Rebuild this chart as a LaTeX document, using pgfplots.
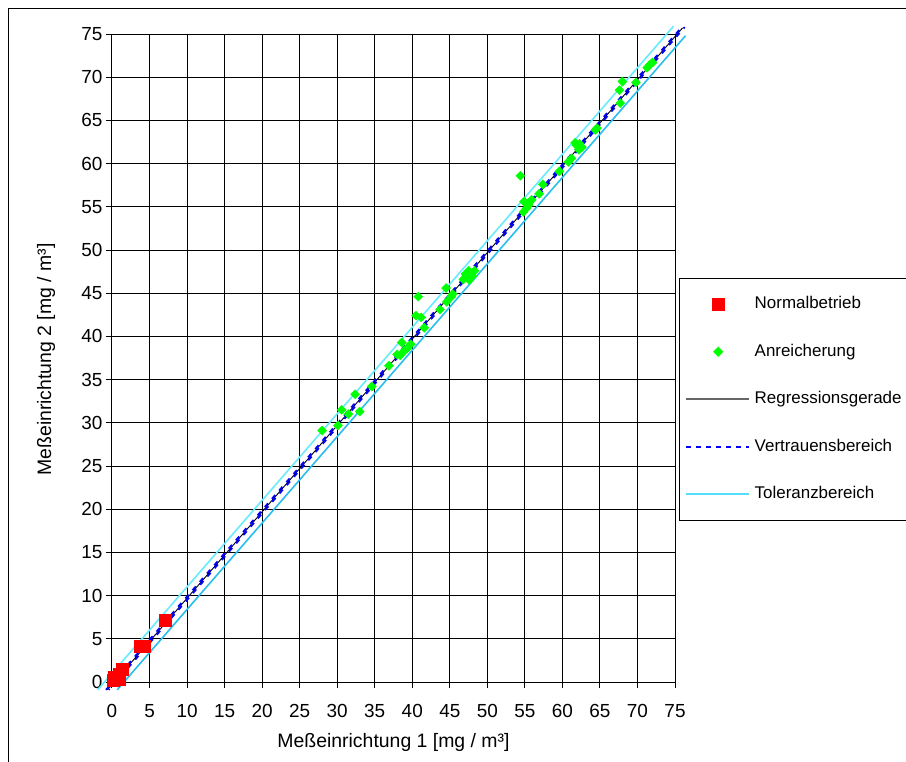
\documentclass[border=0pt]{standalone}
\usepackage{fontspec}
\setmainfont{Liberation Sans}
\usepackage{pgfplots}
\pgfplotsset{compat=1.18}
\definecolor{tolup}{RGB}{102,235,255}
\definecolor{tollo}{RGB}{40,190,240}
\definecolor{mygreen}{RGB}{0,255,0}

\pgfplotstableread{
x y
0.1 0.2
0.3 0.6
0.9 0.3
1.0 0.9
1.4 1.5
3.8 4.2
4.3 4.2
7.1 7.2
}\normal

\pgfplotstableread{
x y
28.0 29.1
30.1 29.7
30.6 31.5
31.5 31.0
33.0 31.3
32.4 33.3
34.6 34.2
36.9 36.6
38.0 37.9
38.4 37.8
39.0 38.4
38.6 39.3
39.8 39.1
39.3 38.6
41.6 41.0
40.8 44.6
40.5 42.4
41.2 42.2
43.7 43.1
44.6 44.0
44.5 45.6
45.4 44.9
45.2 44.6
47.1 47.2
46.8 46.6
47.5 47.6
48.0 47.0
47.6 46.5
48.3 47.6
54.4 58.6
54.9 55.6
55.2 54.8
55.9 55.8
54.8 54.4
55.5 55.2
56.9 56.5
57.4 57.6
59.6 59.1
60.8 60.2
61.2 60.6
61.9 62.1
62.3 62.3
62.6 61.9
61.7 62.4
62.2 61.6
64.6 64.1
64.4 63.9
67.7 67.0
67.6 68.5
68.0 69.5
69.8 69.4
71.6 71.4
72.0 71.7
71.3 71.1
}\anreich

\begin{document}
\begin{tikzpicture}
\useasboundingbox (0bp,0bp) rectangle (906bp,-762bp);
\draw[black, line width=1bp] (8bp,-762bp) -- (8bp,-8bp) -- (906bp,-8bp);
\begin{axis}[
  at={(112bp,-682bp)}, anchor=south west,
  scale only axis, width=563bp, height=648bp,
  xmin=0, xmax=75, ymin=0, ymax=75,
  xtick={0,5,...,75}, ytick={0,5,...,75},
  grid=major, grid style={black, line width=1bp},
  axis line style={black, line width=1bp},
  tick align=outside, tick pos=left,
  major tick length=6bp,
  tick style={black, line width=1bp},
  clip=false,
  /pgf/number format/assume math mode=true,
  ticklabel style={font=\fontsize{19}{22}\selectfont},
  xticklabel style={yshift=-13bp},
  xlabel={Meßeinrichtung 1 [mg / m³]},
  ylabel={Meßeinrichtung 2 [mg / m³]},
  label style={font=\fontsize{19.5}{23}\selectfont},
  xlabel style={at={(axis description cs:0.5,-0.0926)}, anchor=center},
  ylabel style={at={(axis description cs:-0.117,0.4977)}, anchor=center},
  legend style={at={(1.0066,0.6239)}, anchor=north west,
    draw=black, line width=1bp, fill=white,
    font=\fontsize{17}{20}\selectfont,
    inner xsep=6bp, inner ysep=16bp, row sep=27.5bp,
    nodes={inner sep=2bp, text height=12.5bp, text depth=3.5bp},
    /tikz/every odd column/.append style={column sep=2.5bp},
    cells={anchor=west}, text width=150bp},
]
\addlegendimage{legend image code/.code={\draw[red, fill=red, only marks, mark=square*, mark size=6bp] plot coordinates {(32bp,0bp)}; \path (0bp,0bp) (63bp,0bp);}}
\addlegendentry{Normalbetrieb}
\addlegendimage{legend image code/.code={\draw[mygreen, fill=mygreen, only marks, mark=square*, mark size=3.1bp, mark options={rotate=45}] plot coordinates {(32bp,0bp)}; \path (0bp,0bp) (63bp,0bp);}}
\addlegendentry{Anreicherung}
\addlegendimage{legend image code/.code={\draw[black!60, line width=1.5bp] (0bp,0bp) -- (63bp,0bp);}}
\addlegendentry{Regressionsgerade}
\addlegendimage{legend image code/.code={\draw[blue, line width=2bp, dash pattern=on 5bp off 5bp] (0bp,0bp) -- (63bp,0bp);}}
\addlegendentry{Vertrauensbereich}
\addlegendimage{legend image code/.code={\draw[tolup!70!tollo, line width=2bp] (0bp,0bp) -- (63bp,0bp);}}
\addlegendentry{Toleranzbereich}

\addplot[forget plot, tolup, line width=1.6bp] coordinates {(-1.9,-0.9) (74.8,75.9)};
\addplot[forget plot, tollo, line width=1.6bp] coordinates {(0.7,-0.9) (76.4,74.8)};
\addplot[forget plot, black, line width=0.9bp] coordinates {(-0.6,-0.9) (76.0,75.7)};
\addplot[forget plot, blue, line width=1.8bp, dash pattern=on 5bp off 6bp] coordinates {(-0.8,-0.9) (75.9,75.8)};
\addplot[forget plot, blue, line width=1.8bp, dash pattern=on 5bp off 6bp, dash phase=4bp] coordinates {(-0.4,-0.9) (76.3,75.8)};

\addplot[forget plot, only marks, mark=square*, mark size=3.2bp, mark options={rotate=45, draw=mygreen, fill=mygreen}] table[x=x,y=y] {\anreich};
\addplot[forget plot, only marks, mark=square*, mark size=6bp, mark options={draw=red, fill=red}] table[x=x,y=y] {\normal};
\end{axis}
\end{tikzpicture}
\end{document}
